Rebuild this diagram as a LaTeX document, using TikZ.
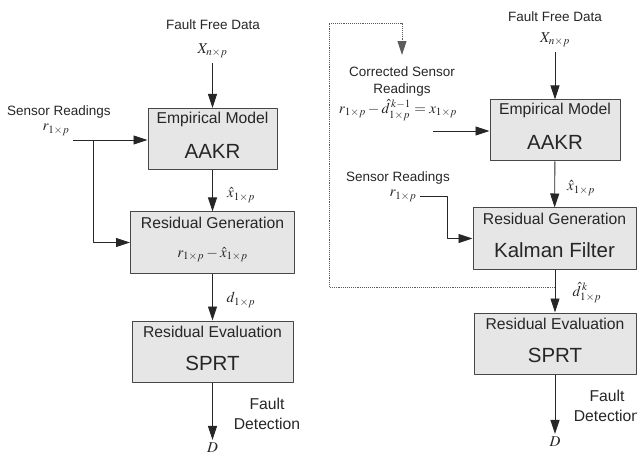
\documentclass[tikz,border=0pt]{standalone}
\usepackage{mathptmx}
\usepackage{fontspec}
\setmainfont{Liberation Sans}
\usetikzlibrary{arrows.meta}
\definecolor{boxfill}{HTML}{E6E6E6}
\definecolor{ink}{HTML}{262626}
\begin{document}
\begin{tikzpicture}[x=1pt, y=-1pt, line join=round, >={Triangle[length=14pt,width=9pt]},
	box/.style={draw=ink!85, fill=boxfill, line width=1pt, minimum height=61pt, inner sep=0pt},
	ttl/.style={font=\fontsize{15.7}{18}\selectfont, text=ink, inner sep=1pt},
	big/.style={font=\fontsize{20.5}{22}\selectfont, text=ink, inner sep=1pt},
	lab/.style={font=\fontsize{13.5}{17}\selectfont, text=ink, align=center, inner sep=1pt},
	fdl/.style={font=\fontsize{15.7}{19.5}\selectfont, text=ink, align=center, inner sep=1pt},
	mth/.style={font=\fontsize{15}{18}\selectfont, text=ink, inner sep=1pt},
	arr/.style={->, draw=ink, line width=0.9pt},
	fb/.style={->, draw=ink!75, line width=0.9pt, densely dotted}]
	\useasboundingbox (0,0) rectangle (637,457);
	% blocks, left scheme then right scheme
	\foreach \b/\x/\y/\w in {empA/212.5/139/129, resA/212.5/242.5/164, evaA/212.5/351.5/161,
		empB/555/130.5/130, resB/554.5/238.5/163, evaB/555/343.5/162}
	\node[box, minimum width=\w pt] (\b) at (\x,\y) {};
	\foreach \b/\t/\s in {empA/Empirical Model/AAKR,
		resA/Residual Generation/{\fontsize{15}{18}\selectfont$r_{1\times p}-\hat{x}_{1\times p}$},
		evaA/Residual Evaluation/SPRT, empB/Empirical Model/AAKR,
		resB/Residual Generation/Kalman Filter, evaB/Residual Evaluation/SPRT}
	\path ([yshift=-11pt]\b.north) node[ttl]{\t} ([yshift=-43pt]\b.north) node[big]{\s};
	% left scheme
	\node[lab] (ffdA) at (213,25) {Fault Free Data};
	\node[mth] (XA) at (212.5,51) {$X_{n\times p}$};
	\node[lab] (srA) at (59,112) {Sensor Readings};
	\node[mth] (rA) at (56,130) {$r_{1\times p}$};
	\node[mth] (xhA) at (241,195) {$\hat{x}_{1\times p}$};
	\node[mth] (dA) at (241,300) {$d_{1\times p}$};
	\node[fdl] (fdA) at (267,414) {Fault\\Detection};
	\node[mth] (DA) at (212.5,448) {$D$};
	\coordinate (sA) at (73,140);
	\coordinate (jA) at (93,140);
	\draw[arr, shorten <=4pt] (XA) -- (empA);
	\draw[arr] (sA) -- (sA -| empA.west);
	\draw[arr] (jA) |- (resA.west);
	\draw[arr] (empA) -- (resA);
	\draw[arr] (resA) -- (evaA);
	\draw[arr, shorten >=2pt] (evaA) -- (DA);
	% right scheme
	\node[lab] (ffdB) at (555,17) {Fault Free Data};
	\node[mth] (XB) at (555,40) {$X_{n\times p}$};
	\node[lab] (corB) at (402,82) {Corrected Sensor\\Readings};
	\node[mth] (eqB) at (398,110) {$r_{1\times p}-\hat{d}^{\,k-1}_{1\times p}=x_{1\times p}$};
	\node[lab] (srB) at (398,178) {Sensor Readings};
	\node[mth] (rB) at (403,196) {$r_{1\times p}$};
	\node[mth] (xhB) at (581,188) {$\hat{x}_{1\times p}$};
	\node[mth] (dhB) at (587,293) {$\hat{d}^{\,k}_{1\times p}$};
	\node[fdl] (fdB) at (607,406) {Fault\\Detection};
	\node[mth] (DB) at (555,442) {$D$};
	\coordinate (cB) at (433,131);
	\coordinate (sB) at (420,196);
	\coordinate (kB) at (447,196);
	\coordinate (dB) at (555,287);
	\coordinate (fbB) at (329,23);
	\draw[arr, shorten <=4pt] (XB) -- (empB);
	\draw[arr] (cB) -- (cB -| empB.west);
	\draw[arr] (sB) -- (kB) |- (resB.west);
	\draw[arr] (empB) -- (resB);
	\draw[arr] (resB.south -| evaB) -- (evaB);
	\draw[arr, shorten >=2pt] (evaB) -- (DB);
	\draw[fb, shorten >=11pt] (dB) -| (fbB) -| (corB.north);
\end{tikzpicture}
\end{document}
